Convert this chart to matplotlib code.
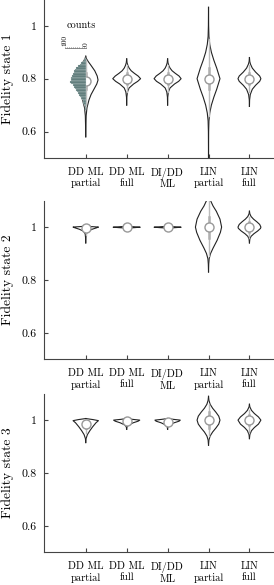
import matplotlib
matplotlib.use("Agg")
import matplotlib.pyplot as plt
import numpy as np

plt.rcParams['font.family'] = ['cmr10', 'DejaVu Serif']
plt.rcParams['axes.formatter.use_mathtext'] = True

methods = ['DD ML\npartial', 'DD ML\nfull', 'DI/DD\nML', 'LIN\npartial', 'LIN\nfull']

# violin outlines: (fidelity, half width) per method, per state
state1 = [
    [(0.58, 0), (0.62, 0.004), (0.66, 0.01), (0.69, 0.03), (0.72, 0.08), (0.74, 0.13), (0.76, 0.2),
     (0.78, 0.27), (0.795, 0.3), (0.81, 0.28), (0.83, 0.22), (0.85, 0.13), (0.865, 0.06), (0.875, 0.02), (0.885, 0)],
    [(0.70, 0), (0.73, 0.004), (0.75, 0.02), (0.765, 0.06), (0.78, 0.17), (0.79, 0.27), (0.80, 0.34),
     (0.81, 0.28), (0.82, 0.19), (0.83, 0.11), (0.84, 0.06), (0.85, 0.03), (0.86, 0.01), (0.875, 0)],
    [(0.70, 0), (0.73, 0.004), (0.75, 0.02), (0.765, 0.06), (0.78, 0.17), (0.79, 0.27), (0.80, 0.33),
     (0.81, 0.28), (0.82, 0.19), (0.83, 0.11), (0.84, 0.06), (0.85, 0.03), (0.86, 0.01), (0.875, 0)],
    [(0.50, 0), (0.60, 0.003), (0.64, 0.01), (0.67, 0.03), (0.70, 0.07), (0.73, 0.13), (0.76, 0.2),
     (0.80, 0.28), (0.84, 0.2), (0.87, 0.13), (0.90, 0.07), (0.93, 0.03), (0.96, 0.01), (1.0, 0.003), (1.07, 0)],
    [(0.695, 0), (0.72, 0.004), (0.74, 0.02), (0.76, 0.07), (0.775, 0.15), (0.79, 0.25), (0.80, 0.28),
     (0.81, 0.25), (0.825, 0.15), (0.84, 0.07), (0.855, 0.025), (0.865, 0.008), (0.88, 0)],
]
state2 = [
    [(0.94, 0), (0.96, 0.004), (0.975, 0.015), (0.985, 0.06), (0.992, 0.16), (0.997, 0.26), (1.0, 0.31),
     (1.002, 0.12), (1.004, 0)],
    [(0.996, 0), (0.998, 0.2), (0.9995, 0.33), (1.001, 0.2), (1.003, 0)],
    [(0.996, 0), (0.998, 0.2), (0.9995, 0.33), (1.001, 0.2), (1.003, 0)],
    [(0.83, 0), (0.86, 0.005), (0.88, 0.015), (0.90, 0.05), (0.92, 0.11), (0.95, 0.21), (0.98, 0.29),
     (1.0, 0.32), (1.03, 0.28), (1.06, 0.19), (1.08, 0.11), (1.10, 0.05), (1.12, 0)],
    [(0.94, 0), (0.955, 0.01), (0.965, 0.04), (0.975, 0.11), (0.985, 0.2), (0.995, 0.27), (1.0, 0.28),
     (1.01, 0.25), (1.02, 0.18), (1.03, 0.1), (1.04, 0.04), (1.05, 0.01), (1.06, 0)],
]
state3 = [
    [(0.915, 0), (0.93, 0.008), (0.945, 0.04), (0.96, 0.1), (0.975, 0.17), (0.99, 0.25), (0.998, 0.31),
     (1.002, 0.18), (1.006, 0)],
    [(0.965, 0), (0.975, 0.01), (0.982, 0.05), (0.99, 0.16), (0.996, 0.28), (1.0, 0.32),
     (1.003, 0.14), (1.006, 0)],
    [(0.965, 0), (0.975, 0.01), (0.982, 0.05), (0.99, 0.16), (0.996, 0.28), (1.0, 0.31),
     (1.003, 0.14), (1.006, 0)],
    [(0.905, 0), (0.925, 0.01), (0.94, 0.04), (0.955, 0.1), (0.97, 0.18), (0.985, 0.25), (1.0, 0.28),
     (1.015, 0.25), (1.03, 0.18), (1.045, 0.1), (1.06, 0.04), (1.075, 0.01), (1.09, 0)],
    [(0.93, 0), (0.945, 0.01), (0.96, 0.05), (0.972, 0.12), (0.985, 0.22), (1.0, 0.28),
     (1.012, 0.22), (1.025, 0.12), (1.037, 0.05), (1.05, 0.01), (1.06, 0)],
]
states = [state1, state2, state3]

medians = [[0.79, 0.80, 0.80, 0.80, 0.80],
           [0.995, 0.999, 0.999, 1.0, 1.0],
           [0.984, 0.995, 0.993, 1.0, 1.0]]
# whiskers and quartiles (lo, q1, q3, hi)
boxes = [
    [(0.70, 0.76, 0.82, 0.87), (0.75, 0.78, 0.82, 0.85), (0.75, 0.78, 0.82, 0.85), (0.66, 0.76, 0.84, 0.95), (0.75, 0.78, 0.82, 0.85)],
    [(0.97, 0.99, 1.0, 1.0), (0.997, 0.998, 1.0, 1.0), (0.997, 0.998, 1.0, 1.0), (0.89, 0.96, 1.04, 1.1), (0.96, 0.98, 1.02, 1.04)],
    [(0.95, 0.97, 0.995, 1.0), (0.98, 0.99, 1.0, 1.0), (0.98, 0.99, 1.0, 1.0), (0.94, 0.97, 1.03, 1.06), (0.95, 0.98, 1.02, 1.04)],
]

# histogram of DD ML partial, state 1
hist_edges = np.arange(0.682, 0.886, 0.006)
hist_counts = [2, 3, 5, 9, 12, 15, 19, 24, 28, 31, 36, 40, 45, 50, 55, 62, 69, 76, 72, 69,
               71, 64, 60, 57, 57, 50, 45, 38, 29, 21, 12, 7, 3, 1]
count_scale = 0.0051

tops = [0.730, 0.386, 0.056]
fig = plt.figure(figsize=(2.74, 5.85), dpi=100)
for k in range(3):
    ax = fig.add_axes([0.1606, tops[k], 0.8394, 0.271])
    for i, prof in enumerate(states[k]):
        pos = i + 1
        yv = np.array([p[0] for p in prof])
        wv = np.array([p[1] for p in prof])
        lo, q1, q3, hi = boxes[k][i]
        ax.fill_betweenx(yv, pos - wv, pos + wv, facecolor='white', edgecolor='none', zorder=2)
        ax.plot(pos - wv, yv, color='#222222', lw=0.8, zorder=3)
        ax.plot(pos + wv, yv, color='#222222', lw=0.8, zorder=3)
        ax.plot([pos, pos], [lo, hi], color='#bbbbbb', lw=1.0, zorder=4)
        ax.plot([pos, pos], [q1, q3], color='#b0b0b0', lw=1.8, zorder=4)
        ax.plot(pos, medians[k][i], 'o', ms=6.5, mfc='white', mec='#999999', mew=1.0, zorder=5)
    if k == 0:
        ax.barh(hist_edges[:len(hist_counts)] + 0.003, -np.array(hist_counts) * count_scale, height=0.006,
                left=1, color='#4f6f6d', edgecolor='#d8e0e0', linewidth=0.2, zorder=6)
        x0 = 1 - 100 * count_scale
        ax.plot([x0, 1], [0.915, 0.915], color='#777777', lw=0.6, zorder=6)
        for t in range(0, 101, 10):
            ax.plot([1 - t * count_scale] * 2, [0.915, 0.921], color='#777777', lw=0.4, zorder=6)
        ax.text(x0, 0.925, '100', rotation=90, fontsize=5.3, ha='center', va='bottom')
        ax.text(1, 0.925, '0', rotation=90, fontsize=5.3, ha='center', va='bottom')
        ax.text(0.88, 1.004, 'counts', fontsize=7.4, ha='center', va='center')
    ax.set_xlim(-0.02, 5.6)
    ax.set_ylim(0.5, 1.1)
    ax.set_yticks([0.6, 0.8, 1.0])
    ax.set_yticklabels(['0.6', '0.8', '1'])
    ax.set_xticks(range(1, 6))
    ax.set_xticklabels(methods, linespacing=1.15)
    ax.tick_params(axis='both', direction='in', length=3, color='#444444')
    ax.tick_params(axis='y', pad=5.5, labelsize=8.5)
    ax.tick_params(axis='x', pad=7, labelsize=7.5)
    ax.set_ylabel('Fidelity state %d' % (k + 1), fontsize=9.7)
    ax.yaxis.set_label_coords(-0.13, 0.5)
    for s in ['top', 'right']:
        ax.spines[s].set_visible(False)
    for s in ['left', 'bottom']:
        ax.spines[s].set_color('#444444')
        ax.spines[s].set_linewidth(0.8)

fig.savefig('out.png', dpi=100)
